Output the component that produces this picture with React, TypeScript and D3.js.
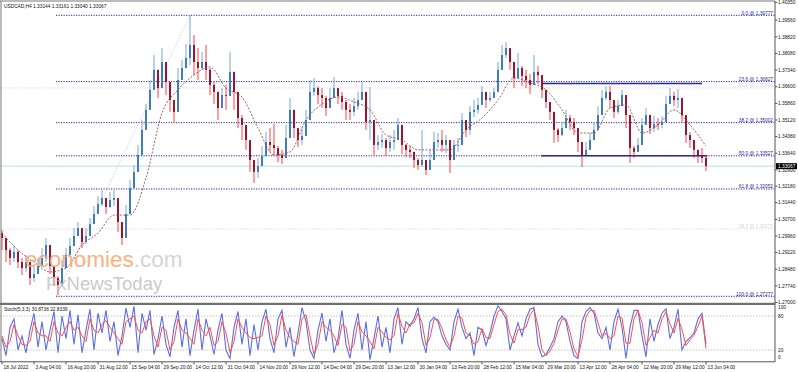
import React, { useRef, useEffect } from 'react';
import * as d3 from 'd3';

// USDCAD H4 candles, sampled across the window (open = previous close)
const closes = [
  1.2987, 1.2933, 1.2898, 1.2925, 1.288, 1.2853, 1.288, 1.2809, 1.2827, 1.2862,
  1.2898, 1.2956, 1.2862, 1.2809, 1.2778, 1.2853, 1.2911, 1.2951, 1.2996, 1.3031,
  1.2969, 1.2996, 1.3049, 1.3094, 1.3138, 1.3165, 1.3125, 1.3156, 1.3165, 1.3058,
  1.2987, 1.3094, 1.3209, 1.3281, 1.3356, 1.3468, 1.3557, 1.3646, 1.3735, 1.3654,
  1.377, 1.3681, 1.3601, 1.3548, 1.369, 1.3743, 1.3788, 1.3846, 1.377, 1.3743,
  1.377, 1.3735, 1.3668, 1.3637, 1.3565, 1.3623, 1.3619, 1.3726, 1.3637, 1.3521,
  1.349, 1.3423, 1.3334, 1.3281, 1.3307, 1.3352, 1.3414, 1.3401, 1.3387, 1.3356,
  1.3343, 1.3432, 1.3557, 1.3476, 1.3423, 1.3441, 1.3512, 1.3637, 1.3654, 1.3623,
  1.361, 1.3565, 1.361, 1.3654, 1.3619, 1.3592, 1.3557, 1.3548, 1.3574, 1.3601,
  1.3637, 1.3503, 1.3512, 1.3401, 1.3414, 1.3423, 1.3387, 1.3414, 1.3423, 1.349,
  1.3401, 1.3379, 1.337, 1.3334, 1.3312, 1.3334, 1.329, 1.3334, 1.3414, 1.3423,
  1.3401, 1.3423, 1.3334, 1.3401, 1.3401, 1.3512, 1.3468, 1.3548, 1.3557, 1.3579,
  1.3637, 1.3601, 1.361, 1.3637, 1.3735, 1.3801, 1.3832, 1.377, 1.3699, 1.3743,
  1.3708, 1.369, 1.3668, 1.3726, 1.3712, 1.3646, 1.3592, 1.3548, 1.3468, 1.3445,
  1.3476, 1.3521, 1.3503, 1.3476, 1.3414, 1.3356, 1.3379, 1.3423, 1.3468, 1.3534,
  1.361, 1.3637, 1.3601, 1.3548, 1.3574, 1.3623, 1.3534, 1.3387, 1.337, 1.3401,
  1.349, 1.3534, 1.3476, 1.3494, 1.349, 1.3503, 1.3583, 1.3619, 1.3601, 1.361,
  1.3534, 1.3445, 1.3423, 1.3379, 1.3356, 1.3343, 1.3307,
];
const highs = [
  1.3022, 1.2987, 1.2942, 1.2956, 1.2933, 1.2898, 1.2911, 1.2853, 1.2867, 1.2898,
  1.2942, 1.2987, 1.2898, 1.2845, 1.2818, 1.2889, 1.2942, 1.2987, 1.3031, 1.3058,
  1.3005, 1.3031, 1.3076, 1.3129, 1.3174, 1.32, 1.3156, 1.3192, 1.32, 1.3112,
  1.3031, 1.3134, 1.3245, 1.3312, 1.3401, 1.3512, 1.3583, 1.369, 1.3801, 1.3699,
  1.3832, 1.3735, 1.3646, 1.3601, 1.3743, 1.3779, 1.385, 1.3978, 1.389, 1.3832,
  1.3815, 1.3846, 1.3743, 1.3681, 1.3623, 1.3654, 1.3668, 1.3815, 1.3681, 1.3579,
  1.3534, 1.3485, 1.3387, 1.3325, 1.3343, 1.3396, 1.3459, 1.3476, 1.3494, 1.3396,
  1.3379, 1.349, 1.361, 1.3534, 1.3476, 1.3476, 1.3557, 1.369, 1.3699, 1.3663,
  1.3654, 1.3619, 1.3654, 1.3703, 1.3654, 1.3637, 1.3601, 1.3583, 1.361, 1.3637,
  1.3681, 1.3557, 1.3659, 1.3454, 1.3445, 1.345, 1.3432, 1.3445, 1.3468, 1.3521,
  1.3432, 1.3405, 1.3396, 1.3361, 1.3343, 1.3468, 1.3325, 1.3379, 1.3459, 1.3454,
  1.3468, 1.3445, 1.3387, 1.3423, 1.3432, 1.3543, 1.3503, 1.3574, 1.3601, 1.361,
  1.3663, 1.3632, 1.3637, 1.3654, 1.377, 1.3846, 1.3859, 1.381, 1.3752, 1.381,
  1.3752, 1.3735, 1.3717, 1.3801, 1.3752, 1.369, 1.3637, 1.3574, 1.3534, 1.3476,
  1.3503, 1.3557, 1.3534, 1.3521, 1.345, 1.3396, 1.3414, 1.3454, 1.3503, 1.3574,
  1.3646, 1.3663, 1.3663, 1.3583, 1.3601, 1.3646, 1.3579, 1.3432, 1.3396, 1.3432,
  1.3521, 1.3565, 1.3512, 1.353, 1.3521, 1.353, 1.3619, 1.3654, 1.3637, 1.365,
  1.3574, 1.3476, 1.3459, 1.3405, 1.3379, 1.3387, 1.3356,
];
const lows = [
  1.2933, 1.288, 1.2867, 1.288, 1.2853, 1.2822, 1.2836, 1.2778, 1.2791, 1.2836,
  1.2862, 1.288, 1.2827, 1.2773, 1.2733, 1.28, 1.288, 1.2925, 1.296, 1.2996,
  1.2942, 1.296, 1.3014, 1.3058, 1.3112, 1.3129, 1.3094, 1.312, 1.3129, 1.3014,
  1.2956, 1.3049, 1.3174, 1.3245, 1.3312, 1.3401, 1.3521, 1.3601, 1.3654, 1.361,
  1.3735, 1.3623, 1.3548, 1.3503, 1.3637, 1.3699, 1.3752, 1.3757, 1.3712, 1.369,
  1.3735, 1.369, 1.3623, 1.3583, 1.3512, 1.3579, 1.3557, 1.3681, 1.3557, 1.3476,
  1.3423, 1.3379, 1.3281, 1.3232, 1.3254, 1.3307, 1.3379, 1.337, 1.3356, 1.3325,
  1.3316, 1.3379, 1.3512, 1.3432, 1.3392, 1.3401, 1.3445, 1.3565, 1.3619, 1.3583,
  1.3565, 1.353, 1.3574, 1.3614, 1.3583, 1.3557, 1.3512, 1.3512, 1.353, 1.3557,
  1.3601, 1.3468, 1.3423, 1.3356, 1.3379, 1.3387, 1.3352, 1.337, 1.3379, 1.345,
  1.3361, 1.3347, 1.3343, 1.3298, 1.329, 1.3303, 1.3267, 1.3298, 1.3379, 1.3387,
  1.337, 1.3365, 1.3276, 1.3356, 1.337, 1.3454, 1.3436, 1.3445, 1.3525, 1.3539,
  1.3601, 1.3565, 1.3592, 1.361, 1.3699, 1.3761, 1.3788, 1.3735, 1.3654, 1.3708,
  1.3663, 1.3654, 1.3628, 1.3699, 1.3672, 1.361, 1.3565, 1.3512, 1.341, 1.3414,
  1.3441, 1.3485, 1.3468, 1.3445, 1.337, 1.3303, 1.3352, 1.3387, 1.3432, 1.3503,
  1.3583, 1.3601, 1.3565, 1.3521, 1.3539, 1.3583, 1.3476, 1.3321, 1.3343, 1.337,
  1.3432, 1.349, 1.345, 1.3459, 1.3468, 1.3476, 1.3557, 1.3592, 1.3574, 1.3565,
  1.3503, 1.341, 1.3387, 1.3343, 1.3321, 1.3321, 1.3285,
];
const firstOpen = 1.301;

// moving average, one value every 4th candle
const maValues = [
  1.3009, 1.2933, 1.288, 1.2836, 1.2853, 1.2956, 1.3009, 1.3089, 1.3089, 1.3254,
  1.3543, 1.3646, 1.3712, 1.3748, 1.3654, 1.3614, 1.3476, 1.3356, 1.337, 1.3512,
  1.3583, 1.3614, 1.3592, 1.3557, 1.3445, 1.3423, 1.3379, 1.3379, 1.3379, 1.3468,
  1.3521, 1.3601, 1.3699, 1.3677, 1.3646, 1.3557, 1.3454, 1.3454, 1.3565, 1.3579,
  1.3454, 1.349, 1.3557, 1.349, 1.3396,
];

// Stochastic (5,3,3)
const stochMain = [
  40, 10, 60, 75, 20, 45, 15, 55, 85, 25, 70, 20, 55, 88, 15, 80, 40, 90, 30, 82,
  15, 55, 92, 20, 85, 50, 90, 35, 70, 10, 45, 94, 60, 97, 15, 85, 55, 90, 12, 40,
  80, 30, 8, 60, 90, 25, 75, 10, 55, 92, 20, 75, 45, 12, 55, 85, 20, 5, 60, 88,
  30, 75, 10, 65, 20, 70, 92, 40, 15, 75, 90, 25, 60, 8, 50, 95, 70, 20, 5, 55,
  85, 35, 75, 15, 40, 90, 30, 5, 55, 85, 20, 70, 3, 40, 80, 25, 60, 15, 75, 95,
  30, 70, 62, 75, 95, 40, 15, 70, 78, 70, 45, 30, 20, 70, 92, 60, 40, 50, 10, 60,
  55, 28, 50, 80, 98, 88, 75, 20, 45, 68, 45, 75, 92, 95, 30, 8, 12, 25, 40, 70,
  80, 70, 35, 10, 5, 70, 88, 95, 85, 50, 40, 60, 20, 70, 92, 60, 5, 60, 90, 90,
  45, 8, 75, 35, 65, 85, 93, 40, 60, 92, 20, 35, 42, 50, 75, 85, 30.87,
];
const stochSignal = [
  45, 25, 35, 65, 45, 30, 28, 35, 70, 50, 45, 45, 35, 70, 50, 45, 60, 70, 55, 60,
  45, 35, 75, 55, 50, 65, 72, 60, 50, 40, 30, 70, 75, 80, 55, 50, 70, 75, 45, 25,
  60, 55, 20, 35, 75, 55, 50, 40, 30, 75, 55, 45, 60, 28, 35, 70, 50, 15, 35, 75,
  60, 50, 42, 40, 42, 45, 80, 65, 28, 45, 82, 55, 42, 35, 30, 75, 82, 45, 12, 30,
  70, 60, 55, 45, 28, 65, 60, 18, 30, 70, 52, 45, 35, 22, 60, 52, 42, 38, 45, 85,
  62, 50, 66, 68, 85, 68, 28, 42, 74, 74, 58, 38, 25, 45, 80, 76, 50, 45, 30, 35,
  58, 42, 40, 65, 88, 92, 82, 48, 32, 56, 56, 60, 82, 92, 62, 20, 10, 18, 32, 55,
  75, 75, 52, 22, 8, 38, 78, 90, 90, 68, 45, 50, 40, 45, 80, 76, 32, 32, 75, 90,
  68, 28, 42, 55, 50, 75, 88, 66, 50, 76, 56, 28, 38, 46, 62, 80, 22.83,
];

const fibLevels = ['0.0', '23.6', '38.2', '50.0', '61.8', '100.0'];
const fibPrices = [1.39777, 1.36827, 1.35002, 1.33527, 1.32052, 1.27277];
const fibStartIndex = 13.5;

const ghostLevels = ['61.8', '38.2'];
const ghostPrices = [1.36546, 1.30271];

// drawn horizontal lines: [fromIndex, toIndex, price]
const boxLines = [
  [135.2, 175, 1.3674],
  [134.8, 176.3, 1.3353],
];

const priceTicks = [
  '1.40350', '1.39560', '1.38820', '1.38080', '1.37340', '1.36600', '1.35860',
  '1.35120', '1.34380', '1.33640', '1.32900', '1.32180', '1.31440', '1.30700',
  '1.29960', '1.29220', '1.28480', '1.27740', '1.27000',
];
const stochTicks = [100, 80, 20, 0];
const timeLabels = [
  '18 Jul 2022', '3 Aug 04:00', '16 Aug 20:00', '31 Aug 12:00', '15 Sep 04:00',
  '29 Sep 20:00', '14 Oct 12:00', '31 Oct 04:00', '14 Nov 20:00', '29 Nov 12:00',
  '14 Dec 04:00', '29 Dec 20:00', '13 Jan 12:00', '30 Jan 04:00', '13 Feb 20:00',
  '28 Feb 12:00', '15 Mar 04:00', '29 Mar 20:00', '13 Apr 12:00', '28 Apr 04:00',
  '12 May 20:00', '29 May 12:00', '13 Jun 04:00',
];

const lastPrice = 1.33067;
const header = 'USDCAD,H4  1.33144 1.33161 1.33040 1.33067';
const stochHeader = 'Stoch(5,3,3) 30.8736 22.8339';

const FONT = 'Liberation Sans, Arial, sans-serif';

export default function App() {
  const ref = useRef<SVGSVGElement>(null);

  useEffect(() => {
    const svg = d3.select(ref.current);
    svg.selectAll('*').remove();

    const plotRight = 775;
    const n = closes.length;
    const x = d3.scaleLinear().domain([0, n - 1]).range([2, 706]);
    const y = d3.scaleLinear().domain([1.27277, 1.39777]).range([296.3, 15.3]);
    const ys = d3.scaleLinear().domain([0, 100]).range([361.3, 304.7]);
    const xTime = d3.scaleLinear().domain([0, timeLabels.length - 1]).range([2, 706]);

    svg.append('rect').attr('width', 798).attr('height', 372).attr('fill', '#fff');

    const main = svg.append('g');

    // ghost dotted lines
    ghostPrices.forEach((p, i) => {
      main.append('line')
        .attr('x1', 0).attr('x2', plotRight)
        .attr('y1', y(p)).attr('y2', y(p))
        .attr('stroke', '#dcdcec').attr('stroke-dasharray', '1.5,1.5');
      main.append('text')
        .attr('x', plotRight - 2).attr('y', y(p) - 0.5)
        .attr('text-anchor', 'end')
        .attr('font-family', FONT).attr('font-size', 4.8)
        .attr('fill', '#d6d6ea')
        .text(`${ghostLevels[i]} @ ${p.toFixed(5)}`);
    });

    // fib trend line
    main.append('line')
      .attr('x1', x(fibStartIndex)).attr('y1', y(fibPrices[5]))
      .attr('x2', x(47)).attr('y2', y(fibPrices[0]))
      .attr('stroke', '#d4d4e4').attr('stroke-dasharray', '1.5,1.5');

    // fib levels
    fibPrices.forEach((p, i) => {
      main.append('line')
        .attr('x1', x(fibStartIndex)).attr('x2', plotRight)
        .attr('y1', y(p)).attr('y2', y(p))
        .attr('stroke', '#2626a8').attr('stroke-dasharray', '1.2,1.3');
      main.append('text')
        .attr('x', plotRight - 2).attr('y', y(p) - 0.6)
        .attr('text-anchor', 'end')
        .attr('font-family', FONT).attr('font-size', 4.8)
        .attr('fill', '#2626a8')
        .text(`${fibLevels[i]} @ ${p.toFixed(5)}`);
    });

    // current price line
    main.append('line')
      .attr('x1', 0).attr('x2', plotRight)
      .attr('y1', y(lastPrice)).attr('y2', y(lastPrice))
      .attr('stroke', '#b4e2ea');

    // candles
    const candles = closes.map((c, i) => {
      const o = i === 0 ? firstOpen : closes[i - 1];
      return { i, o, c, h: Math.max(highs[i], o, c), l: Math.min(lows[i], o, c) };
    });
    const cg = main.append('g');
    cg.selectAll('line.wick').data(candles).enter().append('line')
      .attr('x1', (d) => x(d.i)).attr('x2', (d) => x(d.i))
      .attr('y1', (d) => y(d.h)).attr('y2', (d) => y(d.l))
      .attr('stroke', (d) => (d.c >= d.o ? '#78a6da' : '#ff4040'))
      .attr('stroke-width', 1);
    cg.selectAll('rect.body').data(candles).enter().append('rect')
      .attr('x', (d) => x(d.i) - 1)
      .attr('y', (d) => y(Math.max(d.o, d.c)))
      .attr('width', 2)
      .attr('height', (d) => Math.max(0.8, Math.abs(y(d.o) - y(d.c))))
      .attr('fill', (d) => (d.c >= d.o ? '#3f7cc4' : '#9a1430'));

    // moving average
    const maLine = d3.line<number>()
      .x((_, k) => x(k * 4))
      .y((v) => y(v))
      .curve(d3.curveMonotoneX);
    main.append('path')
      .attr('d', maLine(maValues))
      .attr('fill', 'none')
      .attr('stroke', '#a04a4a')
      .attr('stroke-width', 0.9)
      .attr('stroke-dasharray', '2,1.5');

    // drawn box lines
    boxLines.forEach(([a, b, p]) => {
      main.append('line')
        .attr('x1', x(a)).attr('x2', x(b))
        .attr('y1', y(p)).attr('y2', y(p))
        .attr('stroke', '#2b2b9c').attr('stroke-width', 1.4);
    });

    // watermark
    const wm = main.append('g').attr('font-family', FONT).attr('opacity', 0.85);
    const t1 = wm.append('text').attr('x', 25).attr('y', 267).attr('font-size', 22.5);
    t1.append('tspan').attr('fill', '#f6a56e').text('economies');
    t1.append('tspan').attr('fill', '#cdcdcd').text('.com');
    const t2 = wm.append('text').attr('x', 46).attr('y', 289.5).attr('font-size', 18.5);
    t2.append('tspan').attr('fill', '#c2c2c2').text('F');
    t2.append('tspan').attr('fill', '#b6ceb6').text('x');
    t2.append('tspan').attr('fill', '#c2c2c2').text('NewsToday');

    // header
    main.append('text').attr('x', 4).attr('y', 7.5)
      .attr('font-family', FONT).attr('font-size', 4.8).attr('fill', '#111')
      .text(header);

    // stochastic panel
    const sg = svg.append('g');
    [80, 20].forEach((v) => {
      sg.append('line').attr('x1', 0).attr('x2', plotRight)
        .attr('y1', ys(v)).attr('y2', ys(v))
        .attr('stroke', '#c4c4c4').attr('stroke-dasharray', '1.5,1.5');
    });
    const sLine = d3.line<number>().x((_, k) => x(k)).y((v) => ys(v));
    sg.append('path').attr('d', sLine(stochMain))
      .attr('fill', 'none').attr('stroke', '#5d6fe0').attr('stroke-width', 1.1);
    sg.append('path').attr('d', sLine(stochSignal))
      .attr('fill', 'none').attr('stroke', '#ff4d4d').attr('stroke-width', 1);
    sg.append('text').attr('x', 4).attr('y', 311)
      .attr('font-family', FONT).attr('font-size', 4.8).attr('fill', '#111')
      .text(stochHeader);

    // frames
    const frame = svg.append('g').attr('fill', 'none');
    frame.append('line').attr('x1', 0).attr('x2', plotRight).attr('y1', 1).attr('y2', 1)
      .attr('stroke', '#777');
    frame.append('line').attr('x1', 1).attr('x2', 1).attr('y1', 1).attr('y2', 362)
      .attr('stroke', '#777');
    frame.append('rect').attr('x', 0).attr('y', 302.8).attr('width', plotRight).attr('height', 2.2)
      .attr('fill', '#707070');
    frame.append('line').attr('x1', plotRight).attr('x2', plotRight).attr('y1', 1).attr('y2', 362)
      .attr('stroke', '#555');
    frame.append('line').attr('x1', 0).attr('x2', plotRight).attr('y1', 361.8).attr('y2', 361.8)
      .attr('stroke', '#555');

    // price axis
    const ax = svg.append('g').attr('font-family', FONT).attr('font-size', 4.8).attr('fill', '#111');
    priceTicks.forEach((t) => {
      const yy = y(+t);
      ax.append('line').attr('x1', plotRight).attr('x2', plotRight + 2.5)
        .attr('y1', yy).attr('y2', yy).attr('stroke', '#555');
      ax.append('text').attr('x', plotRight + 3).attr('y', yy + 1.7).text(t);
    });
    stochTicks.forEach((v) => {
      const yy = v === 100 ? ys(v) + 3 : v === 0 ? ys(v) - 3.6 : ys(v);
      ax.append('text').attr('x', plotRight + 3).attr('y', yy + 1.7).text(String(v));
    });

    // last price box
    ax.append('rect').attr('x', plotRight + 1).attr('y', y(lastPrice) - 3)
      .attr('width', 21).attr('height', 6).attr('fill', '#000');
    ax.append('text').attr('x', plotRight + 3).attr('y', y(lastPrice) + 1.7)
      .attr('fill', '#fff').text(lastPrice.toFixed(5));

    // time axis
    timeLabels.forEach((t, k) => {
      const xx = xTime(k);
      ax.append('line').attr('x1', xx).attr('x2', xx).attr('y1', 361.8).attr('y2', 364.5)
        .attr('stroke', '#555');
      ax.append('text').attr('x', xx + 1.5).attr('y', 368.8).text(t);
    });
  }, []);

  return (
    <svg
      ref={ref}
      width={798}
      height={372}
      style={{ position: 'absolute', left: 0, top: 0 }}
    />
  );
}
